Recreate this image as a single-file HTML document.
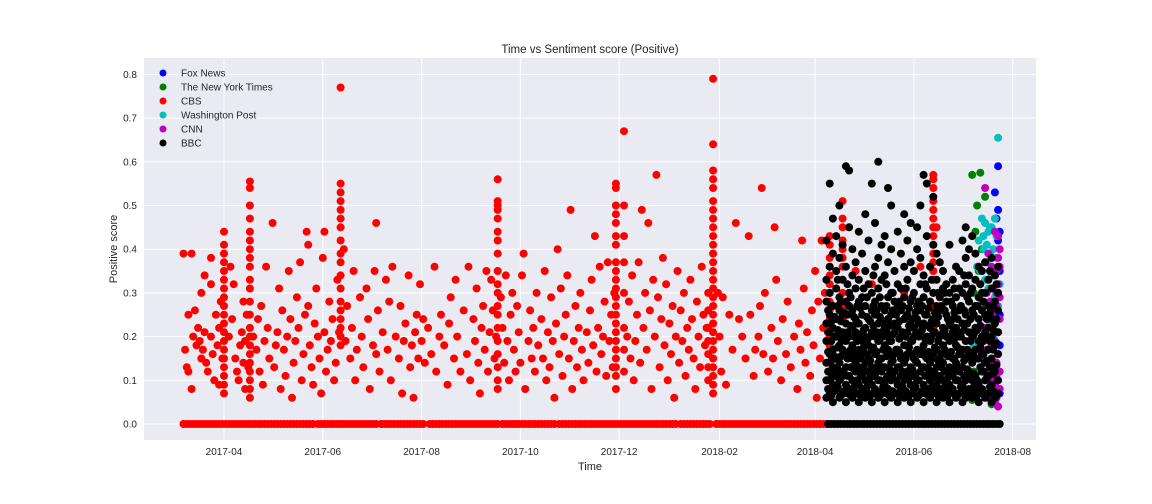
<!DOCTYPE html>
<html><head><meta charset="utf-8"><title>Time vs Sentiment score (Positive)</title>
<style>
html,body{margin:0;padding:0;background:#fff;}
svg{display:block;font-family:"Liberation Sans","DejaVu Sans",sans-serif;}
</style></head>
<body>
<svg id="chart" width="1152" height="504" viewBox="0 0 1152 504" xmlns="http://www.w3.org/2000/svg">
  <rect x="0" y="0" width="1152" height="504" fill="#ffffff"/>
  <rect x="144" y="58" width="892" height="382" fill="#EAEAF2"/>
  <g id="grid"></g>
  <g id="marks"></g>
  <g id="axes"></g>
  <text x="590" y="53" text-anchor="middle" font-size="11.5" fill="#262626">Time vs Sentiment score (Positive)</text>
  <text x="590" y="470" text-anchor="middle" font-size="11" fill="#262626">Time</text>
  <text transform="translate(117,249) rotate(-90)" text-anchor="middle" font-size="11" fill="#262626">Positive score</text>
  <g id="legend"></g>
</svg>
<script>
// ---- data (days since 2017-04-01, positive score) ----
const yTicks = [0.0,0.1,0.2,0.3,0.4,0.5,0.6,0.7,0.8];
const xTickDays = [0,61,122,183,244,306,365,426,487];
const xTickLabels = ["2017-04","2017-06","2017-08","2017-10","2017-12","2018-02","2018-04","2018-06","2018-08"];
const outletNames = ["Fox News","The New York Times","CBS","Washington Post","CNN","BBC"];
const outletColors = ["#0000ff","#008000","#ff0000","#00bfbf","#bf00bf","#000000"];

const cbsZeroRanges = [[-25,56],[58,95],[97,124],[127,135],[137,170],[172,205],[207,280],[282,300],[304,372]];
const bbcZeroRanges = [[373,479]];

const cbsColumns = [
 [0,[0.44,0.41,0.39,0.37,0.35,0.33,0.31,0.29,0.27,0.25,0.23,0.21,0.19,0.17,0.15,0.13,0.11,0.09,0.07]],
 [16,[0.555,0.54,0.5,0.47,0.44,0.42,0.40,0.38,0.36,0.33,0.31,0.28,0.25,0.22,0.2,0.18,0.16,0.14,0.12,0.1,0.08,0.06]],
 [72,[0.77,0.55,0.53,0.51,0.49,0.47,0.45,0.42,0.39,0.37,0.34,0.31,0.28,0.26,0.24,0.22,0.2,0.18]],
 [169,[0.56,0.51,0.5,0.49,0.47,0.44,0.42,0.39,0.35,0.32,0.3,0.27,0.25,0.22,0.19,0.16,0.13,0.1,0.08]],
 [242,[0.55,0.54,0.5,0.48,0.46,0.43,0.41,0.37,0.35,0.33,0.31,0.29,0.27,0.25,0.23,0.21,0.19,0.17,0.15,0.13,0.11,0.08]],
 [247,[0.67,0.5,0.43,0.37,0.3,0.22,0.17,0.12]],
 [302,[0.79,0.64,0.58,0.56,0.54,0.51,0.49,0.47,0.45,0.43,0.41,0.39,0.37,0.35,0.33,0.31,0.29,0.27,0.25,0.23,0.21,0.19,0.17,0.15,0.13,0.11,0.09,0.07]],
 [299,[0.3,0.26,0.22,0.19,0.16,0.13,0.1]],
 [374,[0.43,0.41,0.38,0.36,0.34,0.32,0.3,0.28,0.26,0.24,0.22,0.2,0.18,0.16,0.14,0.12,0.1]],
 [382,[0.51,0.47,0.45,0.42,0.4,0.38,0.36,0.33,0.3,0.27,0.24]],
 [438,[0.57,0.56,0.54,0.51,0.49,0.47,0.45,0.43,0.41,0.39,0.37,0.35,0.33,0.3,0.27,0.24,0.22]]
];
const cbsPoints = [
 [-25,0.39],[-20,0.39],[-24,0.17],[-23,0.13],[-22,0.12],[-22,0.25],[-18,0.26],[-20,0.08],[-19,0.2],[-17,0.18],[-16,0.22],[-15,0.19],[-14,0.15],[-13,0.17],[-12,0.21],[-11,0.14],[-10,0.12],[-14,0.3],[-12,0.34],[-8,0.38],[-8,0.32],[-8,0.2],[-7,0.16],[-6,0.1],[-3,0.09],[-4,0.18],[-3,0.22],[-5,0.25],[-2,0.28],[-1,0.15],
 [4,0.36],[6,0.32],[5,0.24],[3,0.2],[7,0.15],[8,0.12],[10,0.18],[9,0.1],[11,0.21],[12,0.28],[12,0.14],[14,0.25],[13,0.19],[13,0.08],[15,0.13],
 [18,0.2],[20,0.17],[21,0.24],[22,0.12],[23,0.27],[24,0.09],[25,0.19],[26,0.36],[27,0.22],[28,0.15],[30,0.46],[31,0.13],[32,0.18],[33,0.21],[34,0.31],[35,0.08],[36,0.26],[37,0.17],[38,0.11],[39,0.2],[40,0.35],[41,0.24],[42,0.06],[43,0.14],[44,0.19],[45,0.29],[46,0.22],[47,0.37],[48,0.1],[49,0.16],[50,0.25],[51,0.44],[52,0.41],[52,0.27],[53,0.18],[54,0.13],[55,0.09],[56,0.23],[57,0.31],[58,0.2],[59,0.15],[60,0.07],[61,0.38],[62,0.44],[62,0.21],[63,0.12],[64,0.17],[65,0.28],[66,0.19],[67,0.24],[68,0.1],[69,0.14],[70,0.33],[71,0.21],
 [74,0.4],[75,0.19],[76,0.27],[78,0.15],[79,0.22],[80,0.35],[81,0.1],[82,0.17],[84,0.29],[85,0.2],[86,0.13],[88,0.31],[89,0.24],[90,0.08],[92,0.18],[93,0.35],[94,0.46],[94,0.16],[95,0.26],[96,0.12],[98,0.21],[100,0.33],[101,0.17],[102,0.28],[103,0.1],[104,0.36],[106,0.2],[108,0.15],[109,0.27],[110,0.07],[111,0.19],[112,0.23],[114,0.34],[115,0.13],[116,0.18],[117,0.06],[118,0.21],[119,0.25],[120,0.15],[121,0.32],[122,0.19],[123,0.24],[124,0.14],[126,0.22],[128,0.16],[130,0.36],[131,0.12],[133,0.2],[134,0.25],[136,0.18],[138,0.09],[139,0.23],[140,0.29],[142,0.15],[143,0.33],[144,0.2],[146,0.12],[148,0.26],[150,0.16],[151,0.36],[152,0.1],[154,0.24],[155,0.19],[156,0.31],[157,0.14],[158,0.07],[159,0.22],[160,0.27],[161,0.17],[162,0.35],[163,0.12],[164,0.21],[165,0.33],[166,0.26],[167,0.15],[168,0.2],[171,0.29],[172,0.22],[173,0.14],[174,0.34],[175,0.19],[176,0.1],
 [177,0.25],[178,0.3],[179,0.17],[180,0.12],[181,0.27],[182,0.21],[183,0.14],[184,0.34],[185,0.39],[186,0.08],[188,0.19],[189,0.26],[190,0.15],[191,0.22],[192,0.12],[193,0.3],[194,0.18],[196,0.24],[197,0.15],[198,0.35],[199,0.1],[200,0.21],[201,0.13],[202,0.29],[203,0.19],[204,0.06],[205,0.23],[206,0.4],[207,0.16],[208,0.31],[209,0.11],[210,0.2],[211,0.25],[212,0.34],[213,0.15],[214,0.49],[215,0.08],[216,0.19],[217,0.27],[218,0.13],[219,0.22],[220,0.3],[221,0.17],[222,0.1],[224,0.21],[225,0.14],[226,0.26],[227,0.33],[228,0.18],[229,0.43],[230,0.12],[231,0.22],[232,0.36],[233,0.16],[234,0.2],[235,0.28],[236,0.11],[237,0.37],[238,0.19],[239,0.25],[240,0.13],[241,0.3],
 [249,0.2],[250,0.28],[251,0.15],[252,0.34],[253,0.1],[254,0.19],[255,0.25],[256,0.37],[257,0.14],[258,0.49],[259,0.22],[260,0.3],[261,0.17],[262,0.46],[263,0.26],[264,0.08],[265,0.33],[266,0.2],[267,0.57],[268,0.29],[269,0.13],[270,0.24],[271,0.38],[272,0.18],[273,0.32],[274,0.1],[275,0.23],[276,0.16],[277,0.27],[278,0.06],[279,0.2],[280,0.35],[281,0.14],[282,0.26],[283,0.19],[284,0.3],[285,0.11],[286,0.22],[287,0.17],[288,0.33],[289,0.24],[290,0.15],[291,0.08],[292,0.28],[293,0.2],[294,0.13],[295,0.36],[296,0.25],[297,0.18],[298,0.22],
 [305,0.3],[306,0.2],[307,0.12],[308,0.29],[310,0.09],[312,0.25],[314,0.17],[316,0.46],[318,0.24],[320,0.2],[322,0.15],[324,0.43],[325,0.25],[327,0.11],[328,0.17],[330,0.2],[331,0.27],[332,0.54],[333,0.16],[334,0.3],[336,0.12],[338,0.22],[339,0.15],[340,0.45],[341,0.33],[342,0.19],[344,0.1],[345,0.24],[347,0.16],[348,0.28],[350,0.13],[352,0.2],[354,0.08],[355,0.23],[356,0.17],[357,0.42],[358,0.31],[359,0.14],[360,0.21],[362,0.11],[363,0.26],[364,0.18],[365,0.35],[366,0.06],[367,0.28],[368,0.15],[369,0.42],[370,0.22],[371,0.3],
 [390,0.35],[400,0.32],[410,0.17],[420,0.3],[430,0.36],[440,0.45]
];
const bbcColumns = [
 [372,[0.06,0.1,0.14,0.19,0.23,0.28,0.33,0.42]],[374,[0.07,0.12,0.16,0.21,0.25,0.3,0.36,0.55]],
 [376,[0.05,0.09,0.13,0.17,0.22,0.27,0.39,0.47]],[378,[0.08,0.11,0.15,0.2,0.24,0.31,0.35,0.43]],
 [380,[0.06,0.1,0.14,0.18,0.26,0.29,0.38,0.5]],[382,[0.07,0.12,0.17,0.21,0.25,0.33,0.41]],
 [384,[0.05,0.09,0.13,0.19,0.23,0.28,0.36,0.59]],[386,[0.08,0.11,0.16,0.2,0.27,0.3,0.45,0.58]],
 [388,[0.06,0.1,0.15,0.18,0.22,0.26,0.34,0.4]],[390,[0.07,0.12,0.14,0.21,0.24,0.31,0.37]],
 [392,[0.05,0.09,0.13,0.17,0.23,0.28,0.33,0.44]],[394,[0.08,0.11,0.16,0.19,0.25,0.29,0.39]],
 [396,[0.06,0.1,0.14,0.2,0.22,0.27,0.35,0.48]],[398,[0.07,0.12,0.15,0.18,0.24,0.32,0.42]],
 [400,[0.05,0.09,0.13,0.17,0.21,0.26,0.3,0.55]],[402,[0.08,0.11,0.16,0.2,0.25,0.28,0.36,0.46]],
 [404,[0.06,0.1,0.14,0.19,0.23,0.31,0.38,0.6]],[406,[0.07,0.12,0.15,0.21,0.27,0.33,0.41]],
 [408,[0.05,0.09,0.13,0.18,0.22,0.26,0.34,0.43]],[410,[0.08,0.11,0.17,0.2,0.24,0.29,0.37,0.54]],
 [412,[0.06,0.1,0.14,0.19,0.25,0.3,0.4,0.5]],[414,[0.07,0.12,0.16,0.21,0.23,0.28,0.35]],
 [416,[0.05,0.09,0.13,0.17,0.22,0.27,0.32,0.44]],[418,[0.08,0.11,0.15,0.2,0.26,0.31,0.39]],
 [420,[0.06,0.1,0.14,0.18,0.24,0.29,0.36,0.48]],[422,[0.07,0.12,0.16,0.21,0.25,0.33,0.42]],
 [424,[0.05,0.09,0.13,0.19,0.23,0.28,0.37,0.46]],[426,[0.08,0.11,0.15,0.2,0.22,0.3,0.35]],
 [428,[0.06,0.1,0.14,0.17,0.24,0.27,0.4,0.45]],[430,[0.07,0.12,0.16,0.21,0.26,0.32,0.38,0.5]],
 [432,[0.05,0.09,0.13,0.18,0.23,0.29,0.34,0.57]],[434,[0.08,0.11,0.15,0.2,0.25,0.31,0.43,0.55]],
 [436,[0.06,0.1,0.14,0.19,0.22,0.28,0.36]],[438,[0.07,0.12,0.16,0.21,0.24,0.3,0.41,0.52]],
 [440,[0.05,0.09,0.13,0.17,0.23,0.27,0.33,0.39]],[442,[0.08,0.11,0.15,0.2,0.26,0.29,0.37]],
 [444,[0.06,0.1,0.14,0.18,0.22,0.31,0.35]],[446,[0.07,0.12,0.16,0.2,0.25,0.28,0.32]],
 [448,[0.05,0.09,0.13,0.19,0.23,0.3,0.41]],[450,[0.08,0.11,0.15,0.21,0.24,0.27,0.33]],
 [452,[0.06,0.1,0.14,0.18,0.22,0.29,0.36]],[454,[0.07,0.12,0.16,0.2,0.26,0.31,0.35]],
 [456,[0.05,0.09,0.13,0.17,0.23,0.3,0.42]],[458,[0.06,0.1,0.15,0.19,0.25,0.32,0.38,0.45]],
 [460,[0.08,0.12,0.16,0.21,0.28,0.34,0.4]],[462,[0.06,0.1,0.14,0.2,0.26,0.31,0.43]],
 [464,[0.07,0.11,0.17,0.22,0.27,0.33,0.39]],[466,[0.05,0.09,0.15,0.19,0.24,0.29,0.36]],
 [468,[0.08,0.12,0.16,0.2,0.26,0.3,0.35]],[470,[0.06,0.1,0.14,0.21,0.25,0.3,0.37]],
 [472,[0.07,0.11,0.17,0.22,0.27,0.33]],[474,[0.05,0.09,0.15,0.2,0.24,0.31,0.38]],
 [476,[0.06,0.12,0.18,0.23,0.28,0.34]],[478,[0.07,0.1,0.16,0.21,0.26,0.3,0.36]]
];
const bbcFillColumns = [
 [373,[0.08,0.12,0.165,0.21,0.26]],[375,[0.065,0.105,0.145,0.19,0.235,0.27]],[377,[0.075,0.115,0.155,0.2,0.245]],
 [379,[0.085,0.125,0.175,0.215,0.27,0.33]],[381,[0.065,0.105,0.155,0.195,0.235,0.28]],[383,[0.075,0.115,0.165,0.205,0.255]],
 [385,[0.07,0.11,0.15,0.21,0.25,0.32]],[387,[0.065,0.13,0.17,0.225,0.29]],[389,[0.085,0.125,0.165,0.2,0.245]],
 [391,[0.07,0.1,0.155,0.19,0.23,0.27]],[393,[0.065,0.115,0.15,0.205,0.265]],[395,[0.075,0.13,0.175,0.215,0.31]],
 [397,[0.085,0.12,0.16,0.19,0.245,0.29]],[399,[0.065,0.105,0.145,0.2,0.235]],[401,[0.07,0.115,0.175,0.225,0.27,0.34]],
 [403,[0.075,0.125,0.165,0.21,0.26]],[405,[0.065,0.1,0.15,0.195,0.245,0.29]],[407,[0.085,0.13,0.17,0.2,0.235]],
 [409,[0.07,0.105,0.155,0.215,0.27,0.32]],[411,[0.065,0.125,0.16,0.19,0.225]],[413,[0.075,0.115,0.145,0.205,0.26,0.3]],
 [415,[0.07,0.1,0.17,0.22,0.25]],[417,[0.065,0.13,0.165,0.195,0.235,0.28]],[419,[0.085,0.12,0.155,0.21,0.27]],
 [421,[0.075,0.11,0.15,0.2,0.245,0.31]],[423,[0.065,0.105,0.175,0.225,0.265]],[425,[0.07,0.125,0.16,0.19,0.24,0.29]],
 [427,[0.085,0.115,0.145,0.205,0.255]],[429,[0.065,0.1,0.165,0.2,0.23,0.28]],[431,[0.075,0.13,0.17,0.215,0.27]],
 [433,[0.07,0.11,0.155,0.195,0.25,0.32]],[435,[0.065,0.125,0.165,0.225,0.265]],[437,[0.085,0.105,0.15,0.2,0.235,0.33]],
 [439,[0.075,0.115,0.175,0.21,0.255]],[441,[0.065,0.1,0.145,0.19,0.245,0.3]],[443,[0.07,0.13,0.16,0.205,0.27]],
 [445,[0.085,0.12,0.17,0.215,0.26,0.3]],[447,[0.065,0.105,0.155,0.2,0.24]],[449,[0.075,0.115,0.165,0.225,0.28]],
 [451,[0.07,0.125,0.15,0.195,0.255,0.31]],[453,[0.065,0.1,0.175,0.21,0.24]],[455,[0.085,0.13,0.16,0.2,0.27]],
 [457,[0.075,0.11,0.145,0.215,0.26,0.34]],[459,[0.065,0.125,0.17,0.23,0.29]],[461,[0.07,0.105,0.155,0.19,0.24,0.3]],
 [463,[0.085,0.115,0.165,0.205,0.25]],[465,[0.065,0.1,0.15,0.215,0.27]],[467,[0.075,0.13,0.175,0.225,0.32]],
 [469,[0.07,0.12,0.16,0.19,0.28]],[471,[0.065,0.105,0.145,0.2,0.24]],[473,[0.085,0.13,0.19,0.255,0.35]],
 [475,[0.075,0.115,0.17,0.215,0.27]],[477,[0.065,0.135,0.185,0.24,0.32]]
];
const foxPoints = [[478,0.59],[478,0.49],[476,0.53],[477,0.47],[479,0.44],[478,0.42],[479,0.35],[478,0.3],[479,0.25],[479,0.18],[478,0.12],[479,0.07],[476,0.05]];
const nytPoints = [[462,0.57],[467,0.575],[470,0.52],[465,0.5],[464,0.44],[468,0.4],[466,0.35],[463,0.3],[469,0.27],[464,0.22],[467,0.18],[463,0.12],[466,0.08],[462,0.055],[474,0.045]];
const wapoPoints = [[478,0.655],[468,0.47],[470,0.46],[472,0.44],[474,0.45],[466,0.42],[469,0.4],[471,0.41],[473,0.39],[475,0.4],[477,0.38],[465,0.36],[467,0.35],[470,0.33],[472,0.31],[474,0.34],[476,0.29],[464,0.27],[468,0.28],[471,0.25],[466,0.22],[469,0.2],[473,0.23],[478,0.27],[463,0.18],[467,0.15],[470,0.12],[475,0.2],[465,0.1],[472,0.08],[477,0.43],[476,0.47],[479,0.32],[469,0.43],[471,0.37],[475,0.35],[473,0.45]];
const cnnPoints = [[470,0.54],[476,0.44],[478,0.43],[472,0.39],[474,0.36],[476,0.34],[478,0.32],[471,0.3],[473,0.28],[475,0.26],[477,0.27],[479,0.24],[470,0.22],[472,0.2],[474,0.18],[476,0.19],[478,0.16],[471,0.14],[473,0.12],[475,0.1],[477,0.11],[479,0.08],[472,0.06],[476,0.05],[478,0.04],[470,0.1],[474,0.25],[479,0.4],[477,0.35],[475,0.14],[473,0.2],[471,0.17],
 [477,0.3],[479,0.29],[478,0.21],[477,0.14],[479,0.12],[476,0.09],[478,0.07],[475,0.31],[474,0.08],[479,0.36],[478,0.38],[477,0.06]];

// ---- scales ----
const X0 = 144, X1 = 1036, Y0 = 58, Y1 = 440;
const xDom = [-49.4, 501.4], yDom = [-0.0366, 0.8375];
function xs(d){ return X0 + (d - xDom[0]) / (xDom[1] - xDom[0]) * (X1 - X0); }
function ys(v){ return Y1 - (v - yDom[0]) / (yDom[1] - yDom[0]) * (Y1 - Y0); }

const NS = "http://www.w3.org/2000/svg";
const grid = document.getElementById('grid');
const axes = document.getElementById('axes');
const marks = document.getElementById('marks');

yTicks.forEach(function(t){
  const y = ys(t);
  const l = document.createElementNS(NS,'line');
  
  
  l.setAttribute('x1',X0); l.setAttribute('x2',X1); l.setAttribute('y1',y); l.setAttribute('y2',y);
  l.setAttribute('stroke','#fff'); l.setAttribute('stroke-width','1');
  grid.appendChild(l);
  const tx = document.createElementNS(NS,'text');
  
  
  tx.setAttribute('x',137); tx.setAttribute('y',y+3.5); tx.setAttribute('text-anchor','end');
  tx.setAttribute('font-size','10'); tx.setAttribute('fill','#262626');
  tx.textContent = t.toFixed(1);
  axes.appendChild(tx);
});
xTickDays.forEach(function(d,i){
  const x = xs(d);
  const l = document.createElementNS(NS,'line');
  
  
  l.setAttribute('x1',x); l.setAttribute('x2',x); l.setAttribute('y1',Y0); l.setAttribute('y2',Y1);
  l.setAttribute('stroke','#fff'); l.setAttribute('stroke-width','1');
  grid.appendChild(l);
  const tx = document.createElementNS(NS,'text');
  
  
  tx.setAttribute('x',x); tx.setAttribute('y',455); tx.setAttribute('text-anchor','middle');
  tx.setAttribute('font-size','10'); tx.setAttribute('fill','#262626');
  tx.textContent = xTickLabels[i];
  axes.appendChild(tx);
});

function dot(d,v,color,name){
  const c = document.createElementNS(NS,'circle');
  
  
  c.setAttribute('cx',xs(d).toFixed(1)); c.setAttribute('cy',ys(v).toFixed(1));
  c.setAttribute('r','4'); c.setAttribute('fill',color);
  marks.appendChild(c);
}
function drawPoints(arr,color,name){ arr.forEach(function(p){ dot(p[0],p[1],color,name); }); }
function drawColumns(arr,color,name){ arr.forEach(function(c){ c[1].forEach(function(v){ dot(c[0],v,color,name); }); }); }
function drawZero(ranges,color,name){ ranges.forEach(function(r){ for(let d=r[0]; d<=r[1]; d+=2){ dot(d,0,color,name); } }); }

drawPoints(foxPoints,outletColors[0],'fox-news-point');
drawPoints(nytPoints,outletColors[1],'nyt-point');
drawZero(cbsZeroRanges,outletColors[2],'cbs-zero-point');
drawPoints(cbsPoints,outletColors[2],'cbs-point');
drawColumns(cbsColumns,outletColors[2],'cbs-point');
drawPoints(wapoPoints,outletColors[3],'washington-post-point');
drawPoints(cnnPoints,outletColors[4],'cnn-point');
drawZero(bbcZeroRanges,outletColors[5],'bbc-zero-point');
drawColumns(bbcColumns,outletColors[5],'bbc-point');
drawColumns(bbcFillColumns,outletColors[5],'bbc-point');

const legend = document.getElementById('legend');
outletNames.forEach(function(n,i){
  const y = 73 + i*14;
  const c = document.createElementNS(NS,'circle');
  
  
  c.setAttribute('cx',163); c.setAttribute('cy',y); c.setAttribute('r','3.5'); c.setAttribute('fill',outletColors[i]);
  legend.appendChild(c);
  const t = document.createElementNS(NS,'text');
  
  
  t.setAttribute('x',181); t.setAttribute('y',y+3.5); t.setAttribute('font-size','10'); t.setAttribute('fill','#262626');
  t.textContent = n;
  legend.appendChild(t);
});
</script>
</body></html>
